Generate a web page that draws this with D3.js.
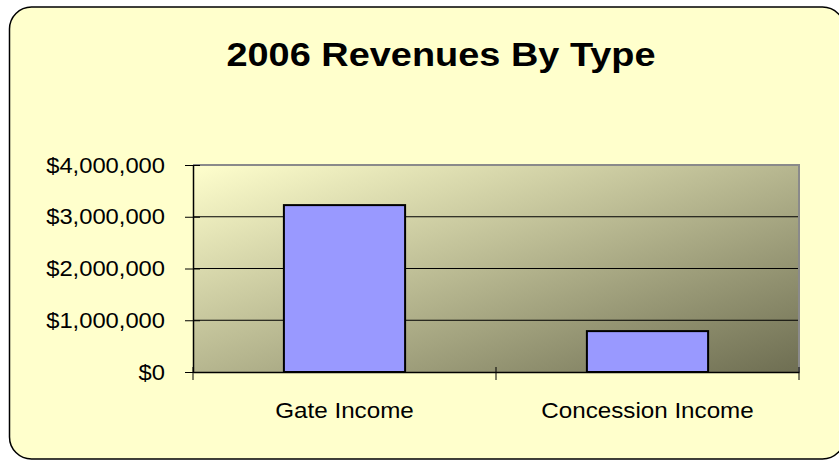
<!DOCTYPE html>
<html>
<head>
<meta charset="utf-8">
<script src="https://cdn.jsdelivr.net/npm/d3@7"></script>
<style>
  html, body { margin: 0; padding: 0; background: #fff; }
  svg { display: block; font-family: Arial, "Liberation Sans", sans-serif; }
</style>
</head>
<body>
<svg id="chart" width="839" height="461"></svg>
<script>
const categories = ["Gate Income", "Concession Income"];
const revenues   = [3225000, 790000];
const yTicks     = [0, 1000000, 2000000, 3000000, 4000000];
const title      = "2006 Revenues By Type";

const svg = d3.select("#chart");
const plot = { left: 193, right: 799, top: 165, bottom: 372 };

// outer frame
svg.append("rect")
  .attr("x", 9.5).attr("y", 7).attr("width", 835).attr("height", 452)
  .attr("rx", 22).attr("ry", 22)
  .attr("fill", "#ffffcc").attr("stroke", "#000").attr("stroke-width", 1.5);

svg.append("text")
  .attr("transform", "translate(441,66) scale(1.115,1)")
  .attr("text-anchor", "middle")
  .attr("font-size", 34).attr("font-weight", "bold")
  .text(title);

const defs = svg.append("defs");
const grad = defs.append("linearGradient").attr("id", "bg")
  .attr("x1", 0).attr("y1", 0).attr("x2", 1).attr("y2", 1);
grad.append("stop").attr("offset", "0%").attr("stop-color", "#ffffcd");
grad.append("stop").attr("offset", "100%").attr("stop-color", "#6e6e52");

const x = d3.scaleBand().domain(categories).range([plot.left, plot.right]).paddingInner(0.6).paddingOuter(0.3);
const y = d3.scaleLinear().domain([0, 4000000]).range([plot.bottom, plot.top]);

svg.append("rect")
  .attr("x", plot.left).attr("y", plot.top)
  .attr("width", plot.right - plot.left).attr("height", plot.bottom - plot.top)
  .attr("fill", "url(#bg)");

// gridlines
svg.append("g").selectAll("line")
  .data(yTicks.slice(1, -1))
  .enter().append("line")
  .attr("x1", plot.left).attr("x2", plot.right)
  .attr("y1", d => y(d)).attr("y2", d => y(d))
  .attr("stroke", "#000").attr("stroke-width", 1);

// plot border top/right
svg.append("path")
  .attr("d", `M${plot.left},${plot.top}H${plot.right}V${plot.bottom}`)
  .attr("fill", "none").attr("stroke", "#8a8a8a").attr("stroke-width", 2);

// bars
svg.append("g").selectAll("rect")
  .data(revenues)
  .enter().append("rect")
  .attr("x", (d, i) => x(categories[i]))
  .attr("y", d => y(d))
  .attr("width", x.bandwidth())
  .attr("height", d => y(0) - y(d))
  .attr("fill", "#9999ff").attr("stroke", "#000").attr("stroke-width", 2);

// y axis
const yAxis = d3.axisLeft(y).tickValues(yTicks).tickSize(0).tickPadding(20)
  .tickFormat(d => "$" + d3.format(",")(d));
const gy = svg.append("g").attr("transform", `translate(${plot.left},0)`).call(yAxis);
gy.select(".domain").attr("stroke", "#000").attr("stroke-width", 1.5);
gy.selectAll(".tick text").attr("font-size", 22).attr("fill", "#000")
  .attr("font-family", "Arial, 'Liberation Sans', sans-serif")
  .attr("transform", "scale(1.08,1)").attr("x", -28 / 1.08);
gy.selectAll(".tick").append("line")
  .attr("x1", -8).attr("x2", 7).attr("stroke", "#000").attr("stroke-width", 1);

// x axis
const xAxis = d3.axisBottom(x).tickSize(0).tickPadding(30);
const gx = svg.append("g").attr("transform", `translate(0,${plot.bottom})`).call(xAxis);
gx.select(".domain").attr("stroke", "#000").attr("stroke-width", 1.5);
gx.selectAll(".tick text").attr("font-size", 22).attr("fill", "#000")
  .attr("font-family", "Arial, 'Liberation Sans', sans-serif")
  .attr("transform", "scale(1.1,1)");
const edges = [plot.left, (plot.left + plot.right) / 2, plot.right];
gx.append("g").selectAll("line")
  .data(edges)
  .enter().append("line")
  .attr("x1", d => d).attr("x2", d => d)
  .attr("y1", -5).attr("y2", 8)
  .attr("stroke", "#000").attr("stroke-width", 1);
</script>
</body>
</html>
